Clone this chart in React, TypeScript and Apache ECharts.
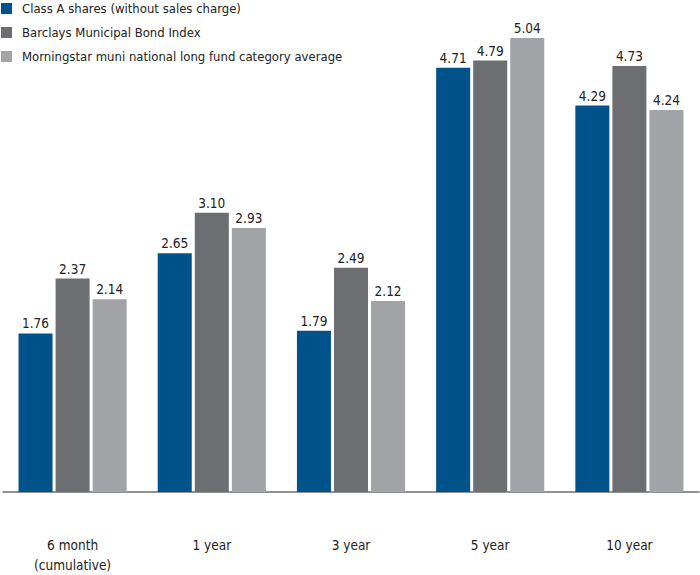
import React, { useEffect, useRef } from "react";
import * as echarts from "echarts";

const categories = ["6 month\n(cumulative)", "1 year", "3 year", "5 year", "10 year"];
const seriesNames = [
  "Class A shares (without sales charge)",
  "Barclays Municipal Bond Index",
  "Morningstar muni national long fund category average",
];
const classA = [1.76, 2.65, 1.79, 4.71, 4.29];
const barclays = [2.37, 3.1, 2.49, 4.79, 4.73];
const morningstar = [2.14, 2.93, 2.12, 5.04, 4.24];
const colors = ["#00528a", "#6d6e72", "#a1a3a6"];

const FONT = "'DejaVu Sans Condensed', 'Liberation Sans Narrow', 'Open Sans', sans-serif";

export default function App() {
  const ref = useRef<HTMLDivElement>(null);
  useEffect(() => {
    document.body.style.margin = "0";
    if (!ref.current) return;
    const chart = echarts.init(ref.current, null, { renderer: "svg" });
    const data = [classA, barclays, morningstar];
    chart.setOption({
      animation: false,
      textStyle: { fontFamily: FONT },
      legend: {
        orient: "vertical",
        left: 1,
        top: 2,
        padding: 0,
        icon: "rect",
        itemWidth: 11,
        itemHeight: 11,
        itemGap: 11,
        textStyle: { fontFamily: FONT, fontSize: 13, color: "#222", padding: [0, 0, 0, 5] },
        data: seriesNames,
      },
      grid: { left: 3, right: 1, top: 38, bottom: 79.5 },
      xAxis: {
        type: "category",
        data: categories,
        axisLine: { lineStyle: { color: "#6d6e72", width: 1.5 } },
        axisTick: { show: false },
        axisLabel: {
          margin: 43,
          fontFamily: FONT,
          fontSize: 13.5,
          color: "#222",
          lineHeight: 20,
        },
      },
      yAxis: {
        type: "value",
        min: 0,
        max: 5.04,
        show: false,
        splitLine: { show: false },
      },
      series: seriesNames.map((name, i) => ({
        name,
        type: "bar",
        data: data[i],
        barWidth: 34,
        barGap: "9%",
        itemStyle: { color: colors[i] },
        label: {
          show: true,
          position: "top",
          distance: 3,
          formatter: (p: any) => p.value.toFixed(2),
          fontFamily: FONT,
          fontSize: 13.5,
          color: "#222",
        },
      })),
    });
    return () => chart.dispose();
  }, []);
  return <div ref={ref} style={{ width: 700, height: 575 }} />;
}
